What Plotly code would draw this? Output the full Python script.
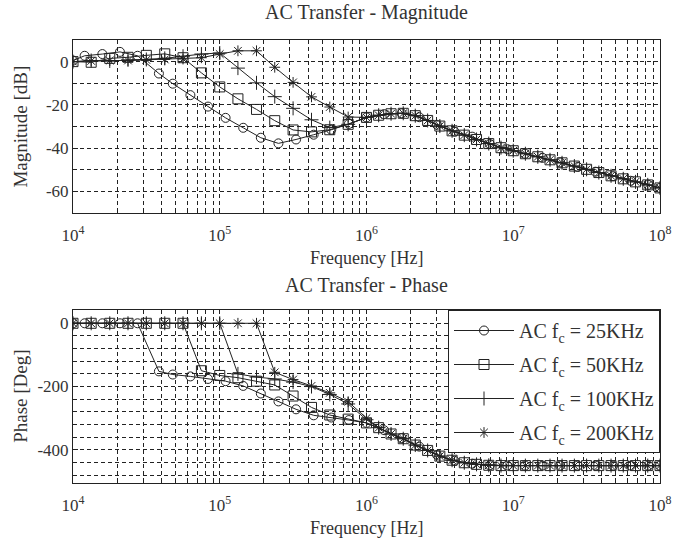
import plotly.graph_objects as go

# frequency grid [Hz] for the 50/100/200 kHz runs
freq = [1.0e4, 1.33e4, 1.78e4, 2.37e4, 3.16e4, 4.22e4, 5.62e4, 7.5e4,
        1.0e5, 1.33e5, 1.78e5, 2.37e5, 3.16e5, 4.22e5, 5.62e5, 7.5e5,
        1.0e6, 1.21e6, 1.47e6, 1.78e6, 2.15e6, 2.61e6, 3.16e6, 3.83e6,
        4.64e6, 5.62e6, 6.81e6, 8.25e6, 1.0e7, 1.21e7, 1.47e7, 1.78e7,
        2.15e7, 2.61e7, 3.16e7, 3.83e7, 4.64e7, 5.62e7, 6.81e7, 8.25e7, 1.0e8]

# frequency grid [Hz] for the 25 kHz run
freq_25k = [1.0e4, 1.20e4, 1.585e4, 2.089e4, 2.754e4, 3.85e4, 4.786e4, 6.31e4,
            8.318e4, 1.096e5, 1.445e5, 1.905e5, 2.512e5, 3.311e5, 4.365e5, 5.754e5,
            7.586e5, 1.0e6, 1.318e6, 1.738e6, 2.291e6, 3.02e6, 3.981e6, 5.248e6,
            6.918e6, 9.12e6, 1.202e7, 1.585e7, 2.089e7, 2.754e7, 3.631e7, 4.786e7,
            6.31e7, 8.318e7, 1.0e8]

# magnitude [dB]
mag_25k = [0.5, 2.7, 3.5, 4.5, 2.7, -5.5, -10.2, -15.5, -20.8, -26.0, -30.6, -35.2,
           -37.8, -36.0, -33.8, -31.5, -28.8, -25.8, -24.3, -23.9, -25.7, -29.2, -32.4,
           -34.7, -38.1, -40.5, -42.6, -44.5, -46.6, -48.7, -50.9, -53.0, -55.1, -57.0, -58.4]
mag_50k_low = [0.0, -0.3, 1.5, 2.0, 2.9, 3.6, 1.8, -5.2, -11.7, -17.2, -22.1, -27.3,
               -31.6, -32.5, -31.5, -29.0, -25.8]
mag_100k_low = [0.0, 0.5, 0.3, 0.8, 1.0, 1.5, 2.5, 3.5, 4.0, -3.0, -9.8, -16.2,
                -21.6, -26.9, -30.5, -29.0, -25.8]
mag_200k_low = [0.0, 0.3, 0.5, 0.5, 0.8, 1.0, 1.2, 1.8, 3.5, 5.0, 5.0, -2.6,
                -9.6, -16.3, -21.0, -25.6, -25.8]
mag_tail = [-24.8, -24.1, -23.9, -25.0, -27.2, -29.8, -32.0, -34.0, -36.0, -37.9, -39.8, -41.2,
            -42.6, -44.0, -45.4, -46.8, -48.3, -49.8, -51.3, -52.8, -54.2, -55.6, -57.0, -58.4]

# phase [deg]
ph_25k = [0, 0, 0, 0, 0, -152, -162, -168, -176, -183, -198, -222, -247, -272, -291, -298,
          -306, -315, -338, -363, -390, -416, -435, -444, -449, -450, -450, -450, -450, -450,
          -450, -450, -450, -450, -450]
ph_50k_low = [0, 0, 0, 0, 0, 0, 0, -150, -165, -172, -183, -195, -230, -266, -290, -303, -315]
ph_100k_low = [0, 0, 0, 0, 0, 0, 0, 0, 0, -160, -170, -176, -186, -200, -225, -255, -305]
ph_200k_low = [0, 0, 0, 0, 0, 0, 0, 0, 0, 0, 0, -155, -178, -198, -220, -248, -300]
ph_tail = [-330, -350, -365, -385, -402, -420, -433, -441, -446, -449, -450, -450,
           -450, -450, -450, -450, -450, -450, -450, -450, -450, -450, -450, -450]

names = ["AC f<sub>c</sub> = 25KHz", "AC f<sub>c</sub> = 50KHz",
         "AC f<sub>c</sub> = 100KHz", "AC f<sub>c</sub> = 200KHz"]

series = [
    (freq_25k, mag_25k, ph_25k, "circle-open", 9),
    (freq, mag_50k_low + mag_tail, ph_50k_low + ph_tail, "square-open", 10),
    (freq, mag_100k_low + mag_tail, ph_100k_low + ph_tail, "cross-thin-open", 10),
    (freq, mag_200k_low + mag_tail, ph_200k_low + ph_tail, "asterisk-open", 9),
]

FONT = "Liberation Serif"
INK = "#222"

fig = go.Figure()
for name, (f, m, p, sym, sz) in zip(names, series):
    mk = dict(symbol=sym, size=sz, color=INK, line=dict(width=1, color=INK))
    fig.add_trace(go.Scatter(x=f, y=m, mode="lines+markers", line=dict(color=INK, width=1),
                             marker=mk, showlegend=False, xaxis="x", yaxis="y"))
    fig.add_trace(go.Scatter(x=f, y=p, mode="lines+markers", line=dict(color=INK, width=1),
                             marker=mk, name=name, legendgroup=name, xaxis="x2", yaxis="y2"))

decades = [1e4, 1e5, 1e6, 1e7, 1e8]
dec_text = ["10<sup>%d</sup>" % e for e in range(4, 9)]
minor_vals = [k * d for d in decades[:-1] for k in range(2, 10)]

grid = dict(showgrid=True, gridcolor="#222", gridwidth=1, griddash="4px,3px")
frame = dict(showline=True, mirror=True, linecolor="#222", linewidth=1,
             ticks="inside", ticklen=5, tickcolor="#222", zeroline=False,
             automargin=False, ticklabeloverflow="allow",
             tickfont=dict(family=FONT, size=17, color="#333"))

xcommon = dict(type="log", range=[4, 8], tickmode="array", tickvals=decades, ticktext=dec_text,
               ticklabelstandoff=7,
               minor=dict(tickmode="array", tickvals=minor_vals, ticks="inside", ticklen=3,
                          **grid),
               **grid, **frame)

mag_ticks = [0, -20, -40, -60]
ph_ticks = [0, -200, -400]

fig.update_layout(
    width=673, height=542,
    margin=dict(l=73, r=13, t=40, b=59),
    paper_bgcolor="white", plot_bgcolor="white",
    font=dict(family=FONT, size=19, color="#333"),
    xaxis=dict(domain=[0, 1], anchor="y", **xcommon),
    yaxis=dict(domain=[0.6095, 1.0], anchor="x", range=[-70, 10], tickmode="array",
               tickvals=mag_ticks, ticktext=[str(v) for v in mag_ticks],
               minor=dict(tick0=0, dtick=10, ticks="inside", ticklen=3, **grid),
               **grid, **frame),
    xaxis2=dict(domain=[0, 1], anchor="y2", **xcommon),
    yaxis2=dict(domain=[0, 0.3905], anchor="x2", range=[-505, 42], tickmode="array",
                tickvals=ph_ticks, ticktext=[str(v) for v in ph_ticks],
                minor=dict(tick0=0, dtick=40, ticks="inside", ticklen=3, **grid),
                **grid, **frame),
    legend=dict(x=1, xanchor="right", y=0.3905, yanchor="top",
                bgcolor="white", bordercolor="#222", borderwidth=1,
                font=dict(family=FONT, size=20, color="#333"),
                tracegroupgap=5, itemwidth=60),
)

labels = [
    ("AC Transfer - Magnitude", 0.5, 1.063, 0, 20),
    ("Frequency [Hz]", 0.5, 0.5079, 0, 18),
    ("AC Transfer - Phase", 0.5, 0.447, 0, 20),
    ("Frequency [Hz]", 0.5, -0.1016, 0, 18),
    ("Magnitude [dB]", -0.09, 0.805, -90, 19),
    ("Phase [Deg]", -0.09, 0.195, -90, 19),
]
for text, x, y, ang, size in labels:
    fig.add_annotation(text=text, x=x, y=y, xref="paper", yref="paper",
                       xanchor="center", yanchor="middle", textangle=ang,
                       showarrow=False, font=dict(size=size))

fig.write_html("out.html", config={"displayModeBar": False},
               post_script="document.body.style.margin='0';")
